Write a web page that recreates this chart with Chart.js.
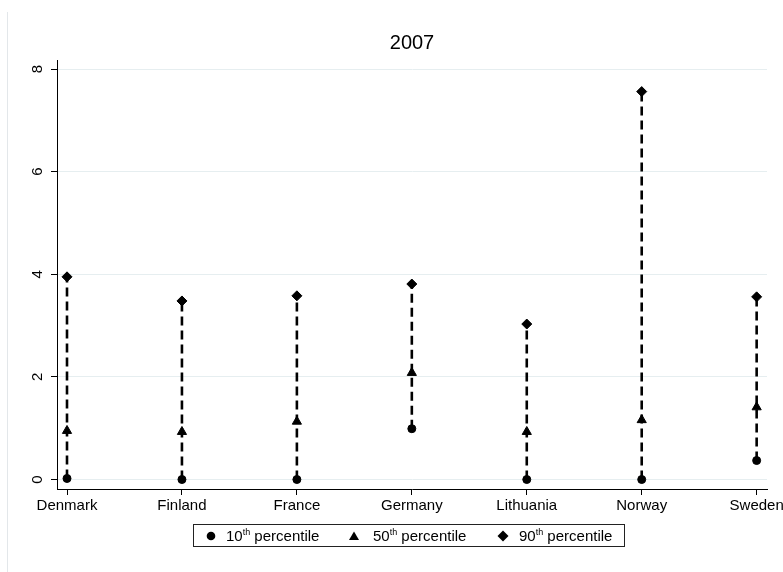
<!DOCTYPE html>
<html>
<head>
<meta charset="utf-8">
<title>2007 percentiles by country</title>
<script src="https://cdn.jsdelivr.net/npm/chart.js@4/dist/chart.umd.min.js"></script>
<style>
  html, body { margin: 0; padding: 0; background: #fff; }
  #wrap { position: relative; width: 783px; height: 572px; overflow: hidden;
          font-family: "Liberation Sans", Arial, sans-serif; }
  #frame { position: absolute; left: 7px; top: 12px; width: 0; height: 560px;
           border-left: 1px solid #e3e7ea; }
  #chart { position: absolute; left: 0; top: 0; }
  #legend { position: absolute; left: 193px; top: 524px; width: 432px; height: 23px;
            box-sizing: border-box; border: 1px solid #222; font-size: 15px; color: #000; }
  .item { position: absolute; top: 0; height: 21px; line-height: 21px; white-space: nowrap; }
  .item svg { position: absolute; top: 5px; }
  .item span { position: absolute; top: 0; }
  .item sup { font-size: 9px; vertical-align: 6px; line-height: 0; }
</style>
</head>
<body>
<div id="wrap">
  <div id="frame"></div>
  <canvas id="chart" width="783" height="572"></canvas>
  <div id="legend"></div>
</div>
<script>
// Countries along the x axis
const countries = ['Denmark', 'Finland', 'France', 'Germany', 'Lithuania', 'Norway', 'Sweden'];

// Percentile values per country
const p10 = [0.02, 0.00, 0.00, 0.99, 0.00, 0.00, 0.37];
const p50 = [0.95, 0.93, 1.13, 2.08, 0.93, 1.16, 1.41];
const p90 = [3.95, 3.48, 3.58, 3.81, 3.03, 7.56, 3.56];

// Y axis tick values and series names
const yTickValues = [0, 2, 4, 6, 8];
const seriesNames = ['10th percentile', '50th percentile', '90th percentile'];
const seriesValues = [p10, p50, p90];

const FONT = '"Liberation Sans", Arial, sans-serif';
const markerStyles = [
  { pointStyle: 'circle',   radius: 4.0 },
  { pointStyle: 'triangle', radius: 5.3 },
  { pointStyle: 'rectRot',  radius: 5.0 }
];

// Dashed range line from the 10th to the 90th percentile for each country
const rangeData = [];
countries.forEach((c, i) => {
  rangeData.push({ x: i, y: p10[i] }, { x: i, y: p90[i] }, { x: i, y: null });
});

const markerDatasets = seriesNames.map((name, s) => ({
  type: 'line',
  label: name,
  data: seriesValues[s].map((v, i) => ({ x: i, y: v })),
  showLine: false,
  pointStyle: markerStyles[s].pointStyle,
  pointRadius: markerStyles[s].radius,
  pointBackgroundColor: '#000',
  pointBorderColor: '#000',
  pointBorderWidth: 1,
  order: 0
}));

const rangeDataset = {
  type: 'line',
  label: 'range',
  data: rangeData,
  borderColor: '#000',
  borderWidth: 2.6,
  borderDash: [9, 5],
  pointRadius: 0,
  spanGaps: false,
  fill: false,
  order: 1
};

const chart = new Chart(document.getElementById('chart'), {
  type: 'scatter',
  data: { datasets: [...markerDatasets, rangeDataset] },
  options: {
    responsive: false,
    animation: false,
    events: [],
    layout: { padding: { left: 0, right: 16, top: 0, bottom: 43 } },
    plugins: {
      legend: { display: false },
      tooltip: { enabled: false },
      title: {
        display: true,
        text: '2007',
        fullSize: false,
        color: '#000',
        font: { family: FONT, size: 20, weight: 'normal', lineHeight: 1.2 },
        padding: { top: 31, bottom: 5 }
      }
    },
    scales: {
      x: {
        type: 'linear',
        min: -0.087,
        max: 6.09,
        afterBuildTicks: (scale) => { scale.ticks = countries.map((c, i) => ({ value: i })); },
        afterFit: (scale) => { scale.height = 40; scale.paddingLeft = 0; scale.paddingRight = 0; },
        grid: { display: true, drawOnChartArea: false, drawTicks: true, tickLength: 6,
                tickColor: '#000', color: '#000' },
        border: { display: true, color: '#000', width: 1 },
        ticks: {
          autoSkip: false, maxRotation: 0, minRotation: 0, padding: 2, color: '#000',
          font: { family: FONT, size: 15 },
          callback: (v) => countries[Math.round(v)]
        }
      },
      y: {
        type: 'linear',
        min: -0.185,
        max: 8.176,
        afterBuildTicks: (scale) => { scale.ticks = yTickValues.map(v => ({ value: v })); },
        afterFit: (scale) => { scale.width = 57; scale.paddingTop = 0; scale.paddingBottom = 0; },
        grid: { display: true, drawOnChartArea: true, drawTicks: true, tickLength: 6,
                color: '#e6eef0', tickColor: '#000', lineWidth: 1 },
        border: { display: true, color: '#000', width: 1 },
        ticks: {
          minRotation: 90, maxRotation: 90, crossAlign: 'center', padding: 9, color: '#000',
          font: { family: FONT, size: 15 },
          callback: (v) => String(v)
        }
      }
    }
  }
});

// Legend built from the marker datasets, with superscript ordinals
const legendOffsets = [
  { marker: 17, text: 32 },
  { marker: 160, text: 179 },
  { marker: 309, text: 325 }
];
function markerSvg(style) {
  const s = 12, c = s / 2;
  let shape;
  if (style === 'circle') shape = `<circle cx="${c}" cy="${c}" r="4.3" fill="#000"/>`;
  else if (style === 'triangle') shape = `<polygon points="${c},1.5 ${c + 5},10 ${c - 5},10" fill="#000"/>`;
  else shape = `<polygon points="${c},0.5 ${c + 5.5},${c} ${c},${s - 0.5} ${c - 5.5},${c}" fill="#000"/>`;
  return `<svg width="${s}" height="${s}" viewBox="0 0 ${s} ${s}">${shape}</svg>`;
}
const legendEl = document.getElementById('legend');
chart.data.datasets.filter(d => d.label !== 'range').forEach((d, i) => {
  const item = document.createElement('div');
  item.className = 'item';
  item.style.left = '0px';
  const html = d.label.replace(/^(\d+)(th)/, '$1<sup>$2</sup>');
  item.innerHTML = markerSvg(d.pointStyle).replace('<svg', `<svg style="left:${legendOffsets[i].marker - 6}px"`) +
    `<span style="left:${legendOffsets[i].text}px">${html}</span>`;
  legendEl.appendChild(item);
});
</script>
</body>
</html>
